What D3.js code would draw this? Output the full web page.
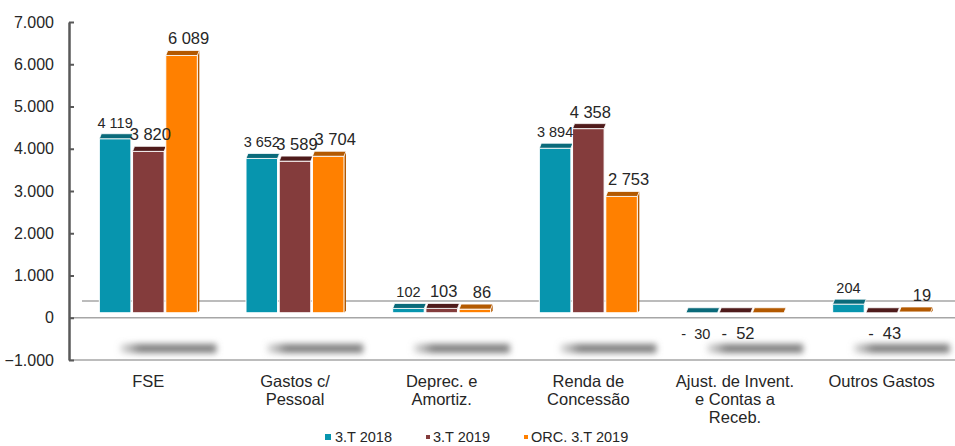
<!DOCTYPE html>
<html>
<head>
<meta charset="utf-8">
<script src="https://cdn.jsdelivr.net/npm/d3@7"></script>
<style>
  body { margin: 0; background: #fff; }
  text { font-family: "Liberation Sans", Arial, sans-serif; fill: #262626; }
</style>
</head>
<body>
<div id="d3-container"></div>
<script>
/* CONSTANTS AND GLOBALS */
const width = 955,
  height = 446,
  depth = 5; // fake 3d depth of the bars

// data
const categories = ["FSE", "Gastos c/ Pessoal", "Deprec. e Amortiz.", "Renda de Concessão", "Ajust. de Invent. e Contas a Receb.", "Outros Gastos"];
const categoryLines = [["FSE"], ["Gastos c/", "Pessoal"], ["Deprec. e", "Amortiz."], ["Renda de", "Concessão"], ["Ajust. de Invent.", "e Contas a", "Receb."], ["Outros Gastos"]];
const series = ["3.T 2018", "3.T 2019", "ORC. 3.T 2019"];
const values2018 = [4119, 3652, 102, 3894, -30, 204];
const values2019 = [3820, 3589, 103, 4358, -52, -43];
const valuesOrc = [6089, 3704, 86, 2753, 0, 19];
const yTicks = [-1000, 0, 1000, 2000, 3000, 4000, 5000, 6000, 7000];

const colors = ["#0795ae", "#843c3c", "#ff8000"];
const capColors = ["#0a6a7a", "#4f1b1b", "#b35900"];
const labelSize = [14.5, 16.5, 16.5];
const labelDx = [0, 2, 7];
const labelDxNeg = [-6, 3, 0];

const allValues = [values2018, values2019, valuesOrc];
const rows = [];
categories.forEach((c, i) => {
  series.forEach((s, j) => rows.push({ cat: c, series: s, si: j, value: allValues[j][i] }));
});

/* SCALES */
const yScale = d3.scaleLinear().domain([-1000, 7000]).range([360, 22]);
const xScale = d3.scalePoint().domain(categories).range([75, 955]).padding(0.5);
const xInner = d3.scaleBand().domain(series).range([-49, 49]).paddingInner(0.05);

const fmtAxis = d => d3.format(",")(d).replace(/,/g, ".");
const fmtLabel = d => d < 0 ? "-  " + d3.format(",")(-d).replace(/,/g, " ") : d3.format(",")(d).replace(/,/g, " ");

const svg = d3.select("#d3-container")
  .append("svg")
  .attr("width", width)
  .attr("height", height);

const defs = svg.append("defs");
defs.append("filter")
  .attr("id", "blur")
  .attr("x", "-20%").attr("y", "-100%").attr("width", "140%").attr("height", "300%")
  .append("feGaussianBlur")
  .attr("stdDeviation", 3);

const grad = defs.append("linearGradient").attr("id", "shadowGrad");
grad.append("stop").attr("offset", "0%").attr("stop-color", "#9a9a9a").attr("stop-opacity", 0.3);
grad.append("stop").attr("offset", "20%").attr("stop-color", "#7f7f7f").attr("stop-opacity", 1);
grad.append("stop").attr("offset", "100%").attr("stop-color", "#7f7f7f").attr("stop-opacity", 1);

const y0 = yScale(0);
const base = y0 - depth;

// shadows under each group
svg.append("g")
  .selectAll("rect")
  .data(categories)
  .join("rect")
  .attr("x", d => xScale(d) - 28)
  .attr("y", 344)
  .attr("width", 96)
  .attr("height", 9)
  .attr("fill", "url(#shadowGrad)")
  .attr("filter", "url(#blur)");

// floor lines
svg.append("line")
  .attr("x1", 82).attr("x2", width)
  .attr("y1", 301).attr("y2", 301)
  .attr("stroke", "#a6a6a6").attr("stroke-width", 1.5);
svg.append("line")
  .attr("x1", 70).attr("x2", width)
  .attr("y1", y0).attr("y2", y0)
  .attr("stroke", "#a6a6a6").attr("stroke-width", 1.5);
svg.append("line")
  .attr("x1", 70).attr("x2", width)
  .attr("y1", yScale(-1000)).attr("y2", yScale(-1000))
  .attr("stroke", "#a6a6a6").attr("stroke-width", 1.5);

// y axis
const yAxis = d3.axisLeft(yScale)
  .tickValues(yTicks)
  .tickFormat(fmtAxis)
  .tickSize(-5)
  .tickSizeOuter(0)
  .tickPadding(15);

const yG = svg.append("g")
  .attr("transform", `translate(${69}, 0)`)
  .call(yAxis);
yG.select(".domain").attr("stroke", "#595959").attr("stroke-width", 2.5);
yG.selectAll(".tick line").attr("stroke", "#595959").attr("stroke-width", 2);
yG.selectAll(".tick text")
  .attr("font-size", 16)
  .attr("fill", "#262626")
  .attr("font-family", "Liberation Sans, Arial, sans-serif");

// bars
const barX = d => xScale(d.cat) + xInner(d.series);
const barTop = d => base - (y0 - yScale(Math.max(d.value, 0)));
const bw = xInner.bandwidth();

const bars = svg.append("g")
  .selectAll("g")
  .data(rows)
  .join("g");

// right side face (visible on last bar of the group)
bars.filter(d => d.si === 2 && d.value > 0)
  .append("polygon")
  .attr("points", d => {
    const x = barX(d) + bw, t = barTop(d);
    return [[x, t], [x + 2, t - depth], [x + 2, base - 2], [x, base]].join(" ");
  })
  .attr("fill", d => capColors[d.si]);

bars.append("rect")
  .attr("x", d => barX(d))
  .attr("y", d => barTop(d))
  .attr("width", bw)
  .attr("height", d => base - barTop(d))
  .attr("fill", d => colors[d.si])
  .attr("stroke", "#fff")
  .attr("stroke-width", 1);

bars.append("polygon")
  .attr("points", d => {
    const x = barX(d), t = barTop(d);
    return [[x, t], [x + bw, t], [x + bw + 2, t - depth], [x + 2, t - depth]].join(" ");
  })
  .attr("fill", d => capColors[d.si])
  .attr("stroke", "#fff")
  .attr("stroke-width", 0.8);

// value labels
svg.append("g")
  .selectAll("text")
  .data(rows.filter(d => d.value !== 0))
  .join("text")
  .attr("x", d => barX(d) + bw / 2 + (d.value < 0 ? labelDxNeg[d.si] : labelDx[d.si]))
  .attr("y", d => d.value < 0 ? y0 + 21 : barTop(d) - depth - 6)
  .attr("text-anchor", "middle")
  .attr("font-size", d => labelSize[d.si])
  .style("white-space", "pre")
  .text(d => fmtLabel(d.value));

// category labels
const catG = svg.append("g")
  .selectAll("text")
  .data(categories)
  .join("text")
  .attr("x", d => xScale(d))
  .attr("y", 387)
  .attr("text-anchor", "middle")
  .attr("font-size", 16.5);

catG.selectAll("tspan")
  .data((d, i) => categoryLines[i].map(t => ({ t, x: xScale(d) })))
  .join("tspan")
  .attr("x", d => d.x)
  .attr("dy", (d, i) => i === 0 ? 0 : 18)
  .text(d => d.t);

// legend
const legendX = [325, 425, 523];
const legendSq = [6, 4, 4];
const legend = svg.append("g")
  .selectAll("g")
  .data(series)
  .join("g")
  .attr("transform", (d, i) => `translate(${legendX[i]}, 0)`);

legend.append("rect")
  .attr("x", (d, i) => i === 0 ? 0 : 1)
  .attr("y", (d, i) => 440 - legendSq[i] - (i === 0 ? 0 : 1))
  .attr("width", (d, i) => legendSq[i])
  .attr("height", (d, i) => legendSq[i])
  .attr("fill", (d, i) => colors[i]);

legend.append("text")
  .attr("x", (d, i) => i === 0 ? 10 : 8)
  .attr("y", 442)
  .attr("font-size", 14.5)
  .text(d => d);
</script>
</body>
</html>
